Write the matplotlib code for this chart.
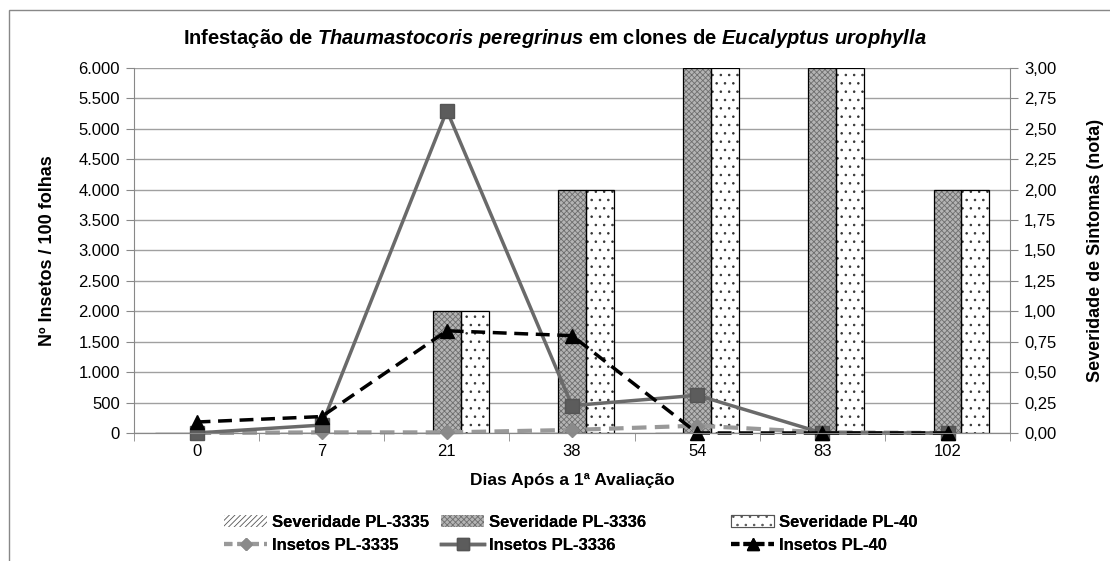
import numpy as np
import matplotlib.pyplot as plt
from matplotlib.patches import Patch, Rectangle
from matplotlib.lines import Line2D
from matplotlib.ticker import FuncFormatter, MultipleLocator

plt.rcParams['font.family'] = ['Liberation Sans', 'DejaVu Sans']
plt.rcParams['mathtext.fontset'] = 'custom'
plt.rcParams['mathtext.it'] = 'Liberation Sans:bold:italic'
plt.rcParams['mathtext.rm'] = 'Liberation Sans:bold'
plt.rcParams['hatch.linewidth'] = 0.6

# Data
dias = ['0', '7', '21', '38', '54', '83', '102']
sev_3335 = [0, 0, 0, 0, 0, 0, 0]
sev_3336 = [0, 0, 1.0, 2.0, 3.0, 3.0, 2.0]
sev_40 = [0, 0, 1.0, 2.0, 3.0, 3.0, 2.0]
ins_3335 = [0, 10, 10, 50, 120, 10, 0]
ins_3336 = [0, 130, 5300, 450, 620, 0, 0]
ins_40 = [180, 270, 1680, 1600, 0, 0, 0]

x = np.arange(len(dias))
w = 0.223
grey_light = '#999999'
grey_mid = '#6a6a6a'

fig = plt.figure(figsize=(11.1, 5.61), dpi=100)
# outer chart frame (right and bottom edges fall outside the picture)
fig.patches.append(Rectangle((0.008, -0.1), 1.2, 1.082, transform=fig.transFigure,
                             fill=False, edgecolor='#888888', linewidth=1.0))

ax = fig.add_axes([0.1207, 0.2282, 0.7893, 0.6506])
ax2 = ax.twinx()

# bars on the right (severity) axis, drawn behind the lines
ax2.set_zorder(1)
ax.set_zorder(2)
ax.patch.set_visible(False)

ax2.bar(x - w, sev_3335, w, facecolor='white', edgecolor='#555555', hatch='//////', linewidth=0)
ax2.bar(x, sev_3336, w, facecolor='#b4b4b4', edgecolor='#6e6e6e', hatch='xxxxxx', linewidth=0)
ax2.bar(x + w, sev_40, w, facecolor='white', edgecolor='#333333', hatch='..', linewidth=0)
for off, vals in ((-w, sev_3335), (0, sev_3336), (w, sev_40)):
    ax2.bar(x + off, vals, w, fill=False, edgecolor='black', linewidth=0.9)

# lines on the left (insects) axis
ax.plot(x, ins_3335, color=grey_light, linestyle=(0, (3.5, 2)), linewidth=3,
        marker='D', markersize=7, markerfacecolor='#8a8a8a', markeredgecolor='#8a8a8a', clip_on=False)
ax.plot(x, ins_3336, color=grey_mid, linestyle='-', linewidth=2.5,
        marker='s', markersize=10, markerfacecolor='#5c5c5c', markeredgecolor='#555555', clip_on=False)
ax.plot(x, ins_40, color='black', linestyle=(0, (4, 2.2)), linewidth=2.5,
        marker='^', markersize=10, markerfacecolor='black', markeredgecolor='black', clip_on=False)

ax.set_xlim(-0.5, len(dias) - 0.5)
ax.set_ylim(0, 6000)
ax2.set_ylim(0, 3)

ax.yaxis.set_major_locator(MultipleLocator(500))
ax.yaxis.set_major_formatter(FuncFormatter(lambda v, p: f'{int(v):,}'.replace(',', '.')))
ax2.yaxis.set_major_locator(MultipleLocator(0.25))
ax2.yaxis.set_major_formatter(FuncFormatter(lambda v, p: f'{v:.2f}'.replace('.', ',')))

ax2.grid(axis='y', color='#a0a0a0', linewidth=1.0)
ax2.set_axisbelow(True)

ax.set_xticks(x)
ax.set_xticklabels(dias)
ax.set_xticks(np.arange(-0.5, len(dias)), minor=True)
ax.tick_params(axis='x', which='major', length=0, labelsize=12, pad=8)
ax.tick_params(axis='x', which='minor', length=6, color='#888888')
ax.tick_params(axis='y', length=6, color='#888888', labelsize=12, pad=4)
ax2.tick_params(axis='y', length=6, color='#888888', labelsize=12, pad=4)

for a in (ax, ax2):
    a.spines['top'].set_visible(False)
    for s in ('left', 'right', 'bottom'):
        a.spines[s].set_color('#888888')
ax.spines['right'].set_visible(False)
ax2.spines['left'].set_visible(False)

ax.set_xlabel('Dias Após a 1ª Avaliação', fontsize=12.5, fontweight='bold', labelpad=10)
ax.set_ylabel('Nº Insetos / 100 folhas', fontsize=13, fontweight='bold', labelpad=16)
ax2.set_ylabel('Severidade de Sintomas (nota)', fontsize=13, fontweight='bold', labelpad=22)

fig.text(0.5, 0.932,
         r'Infestação de $Thaumastocoris\ peregrinus$ em clones de $Eucalyptus\ urophylla$',
         ha='center', va='center', fontsize=14.5, fontweight='bold')

# legend: three columns of two entries
cols = [
    [Patch(facecolor='white', edgecolor='#555555', linewidth=0, hatch='//////', label='Severidade PL-3335'),
     Line2D([], [], color=grey_light, linestyle=(0, (2, 1.2)), linewidth=3, marker='D',
            markersize=6, markerfacecolor='#8a8a8a', markeredgecolor='#8a8a8a', label='Insetos PL-3335')],
    [Patch(facecolor='#b4b4b4', edgecolor='#6e6e6e', linewidth=0, hatch='xxxxxx', label='Severidade PL-3336'),
     Line2D([], [], color=grey_mid, linewidth=2.5, marker='s', markersize=8,
            markerfacecolor='#5c5c5c', markeredgecolor='#555555', label='Insetos PL-3336')],
    [Patch(facecolor='white', edgecolor='#555555', linewidth=0.8, hatch='..', label='Severidade PL-40'),
     Line2D([], [], color='black', linestyle=(0, (2, 1)), linewidth=3, marker='^',
            markersize=8, label='Insetos PL-40')],
]
xpos = [224 / 1110, 441 / 1110, 731 / 1110]
for hs, xp in zip(cols, xpos):
    leg = fig.legend(handles=hs, loc='upper left', bbox_to_anchor=(xp, 1 - 515 / 561),
                     frameon=False, prop={'weight': 'bold', 'size': 12},
                     handlelength=2.6, labelspacing=0.45, handletextpad=0.3,
                     borderpad=0, borderaxespad=0)
    fig.add_artist(leg)

fig.savefig('out.png', dpi=100)
